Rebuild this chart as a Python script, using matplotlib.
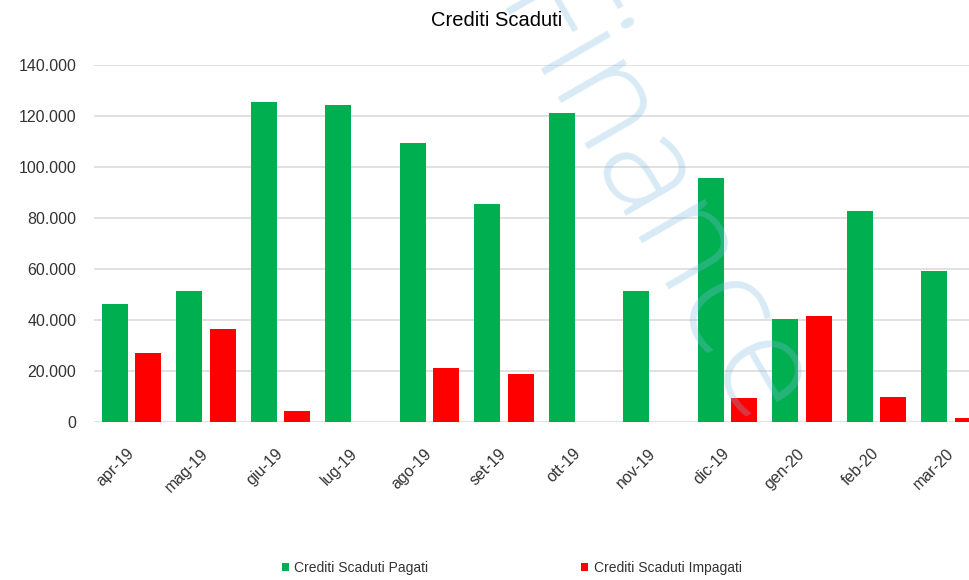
import matplotlib.pyplot as plt
import matplotlib.ticker as mticker
import numpy as np

# months and values
mesi = ['apr-19', 'mag-19', 'giu-19', 'lug-19', 'ago-19', 'set-19',
        'ott-19', 'nov-19', 'dic-19', 'gen-20', 'feb-20', 'mar-20']
pagati = [46200, 51300, 125600, 124300, 109400, 85700,
          121300, 51300, 95800, 40500, 82700, 59400]
impagati = [27100, 36400, 4200, 0, 21100, 19000,
            0, 0, 9300, 41600, 9700, 1700]

verde = '#00B050'
rosso = '#FF0000'
testo = '#333333'

plt.rcParams['font.family'] = ['Liberation Sans', 'DejaVu Sans']

fig = plt.figure(figsize=(9.69, 5.8), dpi=100)
ax = fig.add_axes([0.0973, 0.2724, 0.9226, 0.615])

x = np.arange(len(mesi))
w = 0.349
off = 0.225
ax.bar(x - off, pagati, w, color=verde, label='Crediti Scaduti Pagati', zorder=2)
ax.bar(x + off, impagati, w, color=rosso, label='Crediti Scaduti Impagati', zorder=2)

ax.set_xlim(-0.5, 11.5)
ax.set_ylim(0, 140000)
ax.set_yticks(np.arange(0, 140001, 20000))
ax.yaxis.set_major_formatter(mticker.FuncFormatter(
    lambda v, p: f'{int(v):,}'.replace(',', '.')))
ax.grid(axis='y', color='#D9D9D9', linewidth=1.1, zorder=0)
for s in ax.spines.values():
    s.set_visible(False)
ax.tick_params(axis='y', length=0, pad=13, labelsize=11.5, labelcolor=testo)
ax.tick_params(axis='x', length=0, pad=21, labelsize=11.5, labelcolor=testo)
ax.set_xticks(x)
ax.set_xticklabels(mesi, rotation=45, ha='right', va='center',
                   rotation_mode='anchor')

fig.text(0.512, 0.965, 'Crediti Scaduti', ha='center', va='center',
         fontsize=14.5, color='black')

leg = fig.legend(loc='center', bbox_to_anchor=(0.528, 0.021), ncol=2,
                 frameon=False, fontsize=10, handlelength=0.5,
                 handleheight=0.5, handletextpad=0.4, columnspacing=11)
for t in leg.get_texts():
    t.set_color(testo)

# watermark
fig.text(0.668, 0.645, 'Finance', rotation=-60, rotation_mode='anchor',
         ha='center', va='center', fontsize=104, fontweight='light',
         family=['Open Sans', 'DejaVu Sans'], color='#7DBBE0', alpha=0.3,
         zorder=5)

fig.savefig('out.png', dpi=100)
